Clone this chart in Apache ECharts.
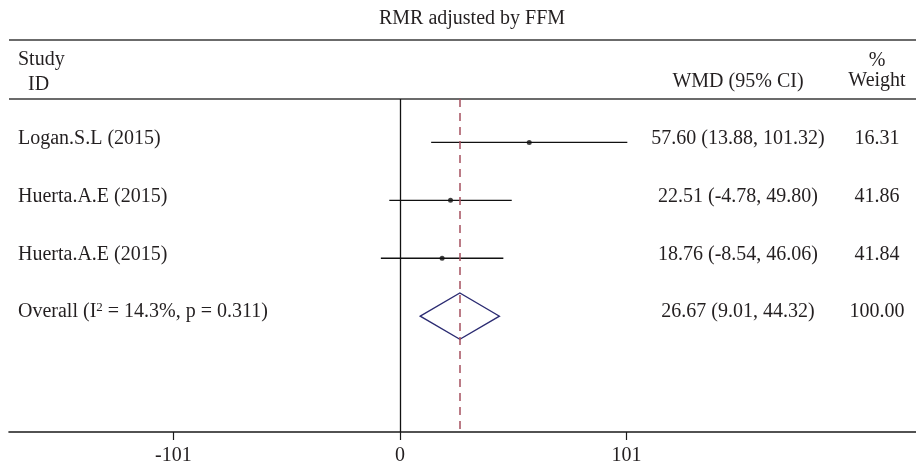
<!DOCTYPE html>
<html>
<head>
<meta charset="utf-8">
<script src="https://cdn.jsdelivr.net/npm/echarts@6/dist/echarts.min.js"></script>
<style>html,body{margin:0;padding:0;background:#fff}#c{width:916px;height:470px}</style>
</head>
<body>
<div id="c"></div>
<script>
const titleText = 'RMR adjusted by FFM';
const studies = ['Logan.S.L (2015)', 'Huerta.A.E (2015)', 'Huerta.A.E (2015)'];
const wmd = [57.60, 22.51, 18.76];
const ciLow = [13.88, -4.78, -8.54];
const ciHigh = [101.32, 49.80, 46.06];
const weights = ['16.31', '41.86', '41.84'];
const overallLabel = 'Overall (I{sup|2} = 14.3%, p = 0.311)';
const overallEst = 26.67;
const overallLow = 9.01;
const overallHigh = 44.32;
const overallWeight = '100.00';
const tickValues = [-101, 0, 101];
const tickLabels = ['-101', '0', '101'];

const FONT = '"Liberation Serif", "DejaVu Serif", serif';
const TXT = '#231f20';
const fmt = v => v.toFixed(2);
const ciText = (e, l, h) => fmt(e) + ' (' + fmt(l) + ', ' + fmt(h) + ')';

const rowLabels = studies.concat([overallLabel]);
const rowWmd = wmd.map((v, i) => ciText(v, ciLow[i], ciHigh[i])).concat([ciText(overallEst, overallLow, overallHigh)]);
const rowWeights = weights.concat([overallWeight]);

const chart = echarts.init(document.getElementById('c'), null, {renderer: 'canvas'});
const textStyleBase = {fontFamily: FONT, fontSize: 20, fill: TXT};

chart.setOption({
  animation: false,
  backgroundColor: '#fff',
  title: {
    text: titleText, left: 467, top: 4, textAlign: 'center',
    textStyle: {fontFamily: FONT, fontSize: 20, fontWeight: 'normal', color: TXT}
  },
  grid: {left: 9, right: 0, top: 99, bottom: 38},
  xAxis: {
    type: 'value', min: -174.3, max: 230,
    axisLine: {show: true, onZero: false, lineStyle: {color: '#1a1a1a', width: 1.6}},
    axisTick: {show: true, customValues: tickValues, length: 8, lineStyle: {color: '#1a1a1a', width: 1.2}},
    axisLabel: {
      show: true, customValues: tickValues, margin: 14,
      fontFamily: FONT, fontSize: 20, color: TXT,
      formatter: v => tickLabels[tickValues.indexOf(v)]
    },
    splitLine: {show: false}
  },
  yAxis: {type: 'value', inverse: true, min: -0.75, max: 5.0, show: false},
  graphic: [
    {type: 'line', shape: {x1: 9, y1: 40, x2: 916, y2: 40}, style: {stroke: '#3a3a3a', lineWidth: 1.5}},
    {type: 'line', shape: {x1: 9, y1: 99, x2: 916, y2: 99}, style: {stroke: '#3a3a3a', lineWidth: 1.5}},
    {type: 'text', left: 18, top: 50, style: Object.assign({text: 'Study'}, textStyleBase)},
    {type: 'text', left: 28, top: 75, style: Object.assign({text: 'ID'}, textStyleBase)},
    {type: 'text', x: 738, y: 82, style: Object.assign({text: 'WMD (95% CI)', align: 'center', verticalAlign: 'middle'}, textStyleBase)},
    {type: 'text', x: 877, y: 61, style: Object.assign({text: '%', align: 'center', verticalAlign: 'middle'}, textStyleBase)},
    {type: 'text', x: 877, y: 81, style: Object.assign({text: 'Weight', align: 'center', verticalAlign: 'middle'}, textStyleBase)}
  ],
  series: [
    {
      type: 'custom',
      data: wmd.map((v, i) => [ciLow[i], ciHigh[i], i]),
      encode: {x: [0, 1], y: 2},
      renderItem: (params, api) => {
        const a = api.coord([api.value(0), api.value(2)]);
        const b = api.coord([api.value(1), api.value(2)]);
        return {type: 'line', shape: {x1: a[0], y1: a[1], x2: b[0], y2: b[1]}, style: {stroke: '#111', lineWidth: 1.3}};
      },
      z: 3,
      markLine: {
        silent: true, symbol: 'none', label: {show: false},
        data: [
          {xAxis: 0, lineStyle: {color: '#111', type: 'solid', width: 1.3}},
          {xAxis: overallEst, lineStyle: {color: '#a5505f', type: [8, 6], width: 1.5}}
        ]
      }
    },
    {
      type: 'scatter',
      data: wmd.map((v, i) => [v, i]),
      symbol: 'circle', symbolSize: 5,
      itemStyle: {color: '#111'},
      z: 4
    },
    {
      type: 'custom',
      data: [[overallLow, overallHigh, overallEst, 3]],
      encode: {x: [0, 1, 2], y: 3},
      renderItem: (params, api) => {
        const row = api.value(3), lo = api.value(0), hi = api.value(1), est = api.value(2);
        const pts = [api.coord([lo, row]), api.coord([est, row - 0.4]), api.coord([hi, row]), api.coord([est, row + 0.4])];
        return {type: 'polygon', shape: {points: pts}, style: {fill: 'none', stroke: '#2b2b72', lineWidth: 1.3}};
      },
      z: 4
    },
    {
      type: 'custom',
      data: rowLabels.map((s, i) => [0, i]),
      encode: {x: 0, y: 1},
      renderItem: (params, api) => {
        const i = params.dataIndex;
        const y = api.coord([0, api.value(1)])[1] - 4;
        return {
          type: 'group',
          children: [
            {type: 'text', x: 18, y: y, style: {text: rowLabels[i], fontFamily: FONT, fontSize: 20, fill: TXT, align: 'left', verticalAlign: 'middle',
              rich: {sup: {fontFamily: FONT, fontSize: 13, fill: TXT, verticalAlign: 'top', padding: [0, 0, 10, 0]}}}},
            {type: 'text', x: 738, y: y, style: {text: rowWmd[i], fontFamily: FONT, fontSize: 20, fill: TXT, align: 'center', verticalAlign: 'middle'}},
            {type: 'text', x: 877, y: y, style: {text: rowWeights[i], fontFamily: FONT, fontSize: 20, fill: TXT, align: 'center', verticalAlign: 'middle'}}
          ]
        };
      },
      z: 5
    }
  ]
});
</script>
</body>
</html>
